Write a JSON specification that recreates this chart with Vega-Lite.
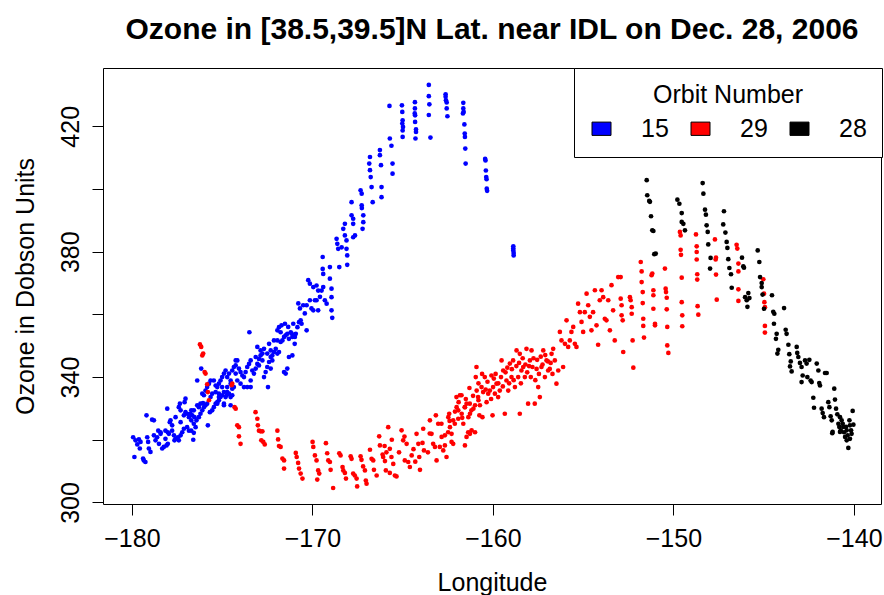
{
  "$schema": "https://vega.github.io/schema/vega-lite/v6.json",
  "width": 778,
  "height": 436,
  "autosize": "none",
  "padding": {"left": 103, "top": 68, "right": 3, "bottom": 91},
  "background": "white",
  "title": {"text": "Ozone in [38.5,39.5]N Lat. near IDL on Dec. 28, 2006", "font": "Liberation Sans", "fontSize": 30, "fontWeight": "bold", "color": "black", "anchor": "middle", "baseline": "alphabetic", "offset": -1},
  "config": {
    "view": {"stroke": "black", "strokeWidth": 1},
    "axis": {"grid": false, "domain": false, "tickColor": "black", "tickSize": 11, "tickWidth": 1, "labelColor": "black", "labelFont": "Liberation Sans", "labelFontSize": 25, "titleFont": "Liberation Sans", "titleFontSize": 25, "titleFontWeight": "normal", "titleColor": "black", "labelOverlap": false, "labelFlush": false}
  },
  "data": {"values": [
{"lon":-179.93,"oz":320.8,"orbit":"15"},{"lon":-179.8,"oz":319.8,"orbit":"15"},{"lon":-179.61,"oz":320.1,"orbit":"15"},{"lon":-179.52,"oz":319.3,"orbit":"15"},{"lon":-179.7,"oz":318.5,"orbit":"15"},{"lon":-179.56,"oz":317.2,"orbit":"15"},{"lon":-179.86,"oz":314.5,"orbit":"15"},{"lon":-179.34,"oz":313.4,"orbit":"15"},{"lon":-179.25,"oz":312.9,"orbit":"15"},{"lon":-179.38,"oz":314,"orbit":"15"},{"lon":-179.06,"oz":317.2,"orbit":"15"},{"lon":-178.97,"oz":316.1,"orbit":"15"},{"lon":-179.15,"oz":320.8,"orbit":"15"},{"lon":-179.1,"oz":319.3,"orbit":"15"},{"lon":-178.78,"oz":321.4,"orbit":"15"},{"lon":-178.69,"oz":319.8,"orbit":"15"},{"lon":-178.6,"oz":320.8,"orbit":"15"},{"lon":-178.54,"oz":322.9,"orbit":"15"},{"lon":-178.41,"oz":322.4,"orbit":"15"},{"lon":-178.5,"oz":318.7,"orbit":"15"},{"lon":-178.32,"oz":317.2,"orbit":"15"},{"lon":-178.23,"oz":317.7,"orbit":"15"},{"lon":-178.08,"oz":318.2,"orbit":"15"},{"lon":-178.14,"oz":320.3,"orbit":"15"},{"lon":-178.01,"oz":318.7,"orbit":"15"},{"lon":-177.95,"oz":321.9,"orbit":"15"},{"lon":-177.77,"oz":322.9,"orbit":"15"},{"lon":-177.67,"oz":321.4,"orbit":"15"},{"lon":-177.64,"oz":319.8,"orbit":"15"},{"lon":-177.58,"oz":320.3,"orbit":"15"},{"lon":-177.45,"oz":320.8,"orbit":"15"},{"lon":-177.4,"oz":319.8,"orbit":"15"},{"lon":-177.3,"oz":321.4,"orbit":"15"},{"lon":-177.21,"oz":322.4,"orbit":"15"},{"lon":-177.12,"oz":323.5,"orbit":"15"},{"lon":-176.94,"oz":324,"orbit":"15"},{"lon":-176.84,"oz":322.9,"orbit":"15"},{"lon":-176.71,"oz":322.9,"orbit":"15"},{"lon":-176.6,"oz":320,"orbit":"15"},{"lon":-176.57,"oz":322.2,"orbit":"15"},{"lon":-176.47,"oz":324,"orbit":"15"},{"lon":-176.57,"oz":325.1,"orbit":"15"},{"lon":-176.71,"oz":326.2,"orbit":"15"},{"lon":-176.84,"oz":327.2,"orbit":"15"},{"lon":-176.94,"oz":328.3,"orbit":"15"},{"lon":-177.03,"oz":328.8,"orbit":"15"},{"lon":-177.12,"oz":327.8,"orbit":"15"},{"lon":-177.3,"oz":325.6,"orbit":"15"},{"lon":-177.4,"oz":330.4,"orbit":"15"},{"lon":-177.34,"oz":331.5,"orbit":"15"},{"lon":-177.03,"oz":333.1,"orbit":"15"},{"lon":-177.08,"oz":332,"orbit":"15"},{"lon":-176.75,"oz":328.3,"orbit":"15"},{"lon":-176.66,"oz":327.8,"orbit":"15"},{"lon":-176.53,"oz":327.2,"orbit":"15"},{"lon":-176.42,"oz":326.2,"orbit":"15"},{"lon":-176.29,"oz":327.2,"orbit":"15"},{"lon":-176.2,"oz":328.3,"orbit":"15"},{"lon":-176.1,"oz":329.4,"orbit":"15"},{"lon":-176.29,"oz":330.4,"orbit":"15"},{"lon":-176.38,"oz":331,"orbit":"15"},{"lon":-176.2,"oz":331.5,"orbit":"15"},{"lon":-176.06,"oz":331.7,"orbit":"15"},{"lon":-176.01,"oz":330.4,"orbit":"15"},{"lon":-175.92,"oz":331,"orbit":"15"},{"lon":-175.83,"oz":331.5,"orbit":"15"},{"lon":-175.79,"oz":324.6,"orbit":"15"},{"lon":-175.68,"oz":328.8,"orbit":"15"},{"lon":-175.55,"oz":329.4,"orbit":"15"},{"lon":-175.46,"oz":330.4,"orbit":"15"},{"lon":-175.36,"oz":331.5,"orbit":"15"},{"lon":-175.27,"oz":332,"orbit":"15"},{"lon":-175.18,"oz":332.6,"orbit":"15"},{"lon":-175.09,"oz":333.6,"orbit":"15"},{"lon":-175,"oz":334.2,"orbit":"15"},{"lon":-174.9,"oz":331,"orbit":"15"},{"lon":-174.81,"oz":333.6,"orbit":"15"},{"lon":-174.72,"oz":335.2,"orbit":"15"},{"lon":-174.62,"oz":334.7,"orbit":"15"},{"lon":-174.53,"oz":333.6,"orbit":"15"},{"lon":-174.44,"oz":336.3,"orbit":"15"},{"lon":-174.35,"oz":336.8,"orbit":"15"},{"lon":-176.01,"oz":334.2,"orbit":"15"},{"lon":-175.92,"oz":335.7,"orbit":"15"},{"lon":-175.83,"oz":336.8,"orbit":"15"},{"lon":-175.73,"oz":337.9,"orbit":"15"},{"lon":-175.64,"oz":338.9,"orbit":"15"},{"lon":-175.46,"oz":338.9,"orbit":"15"},{"lon":-175.36,"oz":337.3,"orbit":"15"},{"lon":-175.27,"oz":336.8,"orbit":"15"},{"lon":-175.18,"oz":337.9,"orbit":"15"},{"lon":-175.09,"oz":338.9,"orbit":"15"},{"lon":-175,"oz":340,"orbit":"15"},{"lon":-174.9,"oz":341.1,"orbit":"15"},{"lon":-174.81,"oz":342.1,"orbit":"15"},{"lon":-174.72,"oz":340,"orbit":"15"},{"lon":-174.62,"oz":341.1,"orbit":"15"},{"lon":-174.53,"oz":338.9,"orbit":"15"},{"lon":-174.44,"oz":342.1,"orbit":"15"},{"lon":-174.35,"oz":343.2,"orbit":"15"},{"lon":-174.25,"oz":343.7,"orbit":"15"},{"lon":-174.16,"oz":345.3,"orbit":"15"},{"lon":-174.07,"oz":342.7,"orbit":"15"},{"lon":-173.98,"oz":341.6,"orbit":"15"},{"lon":-173.88,"oz":340.5,"orbit":"15"},{"lon":-173.79,"oz":340,"orbit":"15"},{"lon":-173.7,"oz":341.6,"orbit":"15"},{"lon":-173.61,"oz":343.2,"orbit":"15"},{"lon":-173.51,"oz":344.2,"orbit":"15"},{"lon":-173.42,"oz":345.3,"orbit":"15"},{"lon":-173.33,"oz":342.1,"orbit":"15"},{"lon":-173.24,"oz":341.1,"orbit":"15"},{"lon":-173.14,"oz":342.7,"orbit":"15"},{"lon":-173.05,"oz":344.2,"orbit":"15"},{"lon":-172.96,"oz":345.8,"orbit":"15"},{"lon":-172.87,"oz":346.9,"orbit":"15"},{"lon":-172.77,"oz":347.5,"orbit":"15"},{"lon":-172.68,"oz":340,"orbit":"15"},{"lon":-172.59,"oz":341.6,"orbit":"15"},{"lon":-172.5,"oz":343.2,"orbit":"15"},{"lon":-172.46,"oz":336.8,"orbit":"15"},{"lon":-172.4,"oz":344.8,"orbit":"15"},{"lon":-172.31,"oz":346.4,"orbit":"15"},{"lon":-172.22,"oz":346.9,"orbit":"15"},{"lon":-172.13,"oz":348,"orbit":"15"},{"lon":-172.03,"oz":349,"orbit":"15"},{"lon":-171.94,"oz":347.5,"orbit":"15"},{"lon":-171.85,"oz":348,"orbit":"15"},{"lon":-171.76,"oz":351.2,"orbit":"15"},{"lon":-171.66,"oz":351.7,"orbit":"15"},{"lon":-171.57,"oz":352.8,"orbit":"15"},{"lon":-171.48,"oz":353.3,"orbit":"15"},{"lon":-171.39,"oz":353.8,"orbit":"15"},{"lon":-171.3,"oz":352.2,"orbit":"15"},{"lon":-171.2,"oz":354.3,"orbit":"15"},{"lon":-171.11,"oz":352.8,"orbit":"15"},{"lon":-171.02,"oz":353.3,"orbit":"15"},{"lon":-170.92,"oz":353.8,"orbit":"15"},{"lon":-170.83,"oz":355.9,"orbit":"15"},{"lon":-170.74,"oz":357.5,"orbit":"15"},{"lon":-170.65,"oz":358.1,"orbit":"15"},{"lon":-171.57,"oz":341.6,"orbit":"15"},{"lon":-171.48,"oz":341.1,"orbit":"15"},{"lon":-171.39,"oz":342.7,"orbit":"15"},{"lon":-171.3,"oz":346.4,"orbit":"15"},{"lon":-171.11,"oz":346.9,"orbit":"15"},{"lon":-170.98,"oz":350.6,"orbit":"15"},{"lon":-173.49,"oz":354.3,"orbit":"15"},{"lon":-173.05,"oz":349.6,"orbit":"15"},{"lon":-172.87,"oz":348.5,"orbit":"15"},{"lon":-172.68,"oz":349,"orbit":"15"},{"lon":-172.4,"oz":350.6,"orbit":"15"},{"lon":-172.13,"oz":351.7,"orbit":"15"},{"lon":-171.94,"oz":354.9,"orbit":"15"},{"lon":-171.85,"oz":355.9,"orbit":"15"},{"lon":-171.76,"oz":354.3,"orbit":"15"},{"lon":-171.94,"oz":351.7,"orbit":"15"},{"lon":-172.31,"oz":348.5,"orbit":"15"},{"lon":-172.22,"oz":345.3,"orbit":"15"},{"lon":-172.31,"oz":342.7,"orbit":"15"},{"lon":-172.5,"oz":347.5,"orbit":"15"},{"lon":-172.77,"oz":345.3,"orbit":"15"},{"lon":-172.96,"oz":343.7,"orbit":"15"},{"lon":-173.14,"oz":346.4,"orbit":"15"},{"lon":-173.42,"oz":336.8,"orbit":"15"},{"lon":-173.42,"oz":338.9,"orbit":"15"},{"lon":-173.61,"oz":336.8,"orbit":"15"},{"lon":-173.79,"oz":336.8,"orbit":"15"},{"lon":-173.98,"oz":337.9,"orbit":"15"},{"lon":-174.16,"oz":338.9,"orbit":"15"},{"lon":-174.25,"oz":341.1,"orbit":"15"},{"lon":-174.25,"oz":345.3,"orbit":"15"},{"lon":-174.53,"oz":337.9,"orbit":"15"},{"lon":-174.72,"oz":336.8,"orbit":"15"},{"lon":-175,"oz":336.8,"orbit":"15"},{"lon":-175.18,"oz":334.7,"orbit":"15"},{"lon":-175.36,"oz":335.2,"orbit":"15"},{"lon":-175.55,"oz":334.7,"orbit":"15"},{"lon":-175.18,"oz":333.6,"orbit":"15"},{"lon":-174.9,"oz":335.2,"orbit":"15"},{"lon":-174.75,"oz":334.2,"orbit":"15"},{"lon":-174.44,"oz":334.2,"orbit":"15"},{"lon":-174.53,"oz":331,"orbit":"15"},{"lon":-174.9,"oz":331.5,"orbit":"15"},{"lon":-175.27,"oz":331.5,"orbit":"15"},{"lon":-175.64,"oz":333.6,"orbit":"15"},{"lon":-176.1,"oz":334.7,"orbit":"15"},{"lon":-176.16,"oz":342.7,"orbit":"15"},{"lon":-176.38,"oz":338.9,"orbit":"15"},{"lon":-176.57,"oz":329.4,"orbit":"15"},{"lon":-176.71,"oz":329.4,"orbit":"15"},{"lon":-177.3,"oz":329.4,"orbit":"15"},{"lon":-177.58,"oz":327.2,"orbit":"15"},{"lon":-177.86,"oz":326.2,"orbit":"15"},{"lon":-177.9,"oz":325.6,"orbit":"15"},{"lon":-177.77,"oz":324.6,"orbit":"15"},{"lon":-178.04,"oz":329.9,"orbit":"15"},{"lon":-178.78,"oz":326.2,"orbit":"15"},{"lon":-179.19,"oz":327.8,"orbit":"15"},{"lon":-178.88,"oz":326.4,"orbit":"15"},{"lon":-178.41,"oz":321.9,"orbit":"15"},{"lon":-178.14,"oz":322.9,"orbit":"15"},{"lon":-178.01,"oz":322.4,"orbit":"15"},
{"lon":-171.71,"oz":356.5,"orbit":"15"},{"lon":-171.52,"oz":357,"orbit":"15"},{"lon":-171.34,"oz":356,"orbit":"15"},{"lon":-171.15,"oz":353.9,"orbit":"15"},{"lon":-171.06,"oz":357,"orbit":"15"},{"lon":-170.97,"oz":352.8,"orbit":"15"},{"lon":-170.6,"oz":357,"orbit":"15"},{"lon":-170.32,"oz":354.9,"orbit":"15"},{"lon":-170.78,"oz":363.5,"orbit":"15"},{"lon":-170.69,"oz":361.9,"orbit":"15"},{"lon":-170.51,"oz":362.9,"orbit":"15"},{"lon":-170.42,"oz":360.3,"orbit":"15"},{"lon":-170.32,"oz":362.9,"orbit":"15"},{"lon":-170.14,"oz":364.5,"orbit":"15"},{"lon":-170.05,"oz":361.9,"orbit":"15"},{"lon":-169.95,"oz":361.3,"orbit":"15"},{"lon":-169.77,"oz":364.5,"orbit":"15"},{"lon":-169.68,"oz":361.3,"orbit":"15"},{"lon":-169.58,"oz":365.6,"orbit":"15"},{"lon":-169.86,"oz":364.5,"orbit":"15"},{"lon":-170.23,"oz":370.9,"orbit":"15"},{"lon":-170.14,"oz":369.8,"orbit":"15"},{"lon":-169.95,"oz":368.7,"orbit":"15"},{"lon":-169.77,"oz":369.2,"orbit":"15"},{"lon":-169.68,"oz":367.6,"orbit":"15"},{"lon":-169.49,"oz":367.6,"orbit":"15"},{"lon":-169.4,"oz":368.7,"orbit":"15"},{"lon":-169.31,"oz":364.5,"orbit":"15"},{"lon":-169.21,"oz":363.4,"orbit":"15"},{"lon":-169.03,"oz":371.4,"orbit":"15"},{"lon":-168.94,"oz":368.2,"orbit":"15"},{"lon":-168.94,"oz":365.5,"orbit":"15"},{"lon":-168.94,"oz":361.3,"orbit":"15"},{"lon":-168.9,"oz":358.9,"orbit":"15"},{"lon":-169.43,"oz":378.3,"orbit":"15"},{"lon":-169.43,"oz":374.5,"orbit":"15"},{"lon":-169.4,"oz":372.9,"orbit":"15"},{"lon":-169.03,"oz":375.1,"orbit":"15"},{"lon":-168.66,"oz":384.1,"orbit":"15"},{"lon":-168.62,"oz":382.5,"orbit":"15"},{"lon":-168.57,"oz":380.9,"orbit":"15"},{"lon":-168.51,"oz":375.1,"orbit":"15"},{"lon":-168.38,"oz":381.4,"orbit":"15"},{"lon":-168.29,"oz":387.3,"orbit":"15"},{"lon":-168.2,"oz":388.9,"orbit":"15"},{"lon":-168.2,"oz":385.2,"orbit":"15"},{"lon":-168.11,"oz":383.6,"orbit":"15"},{"lon":-168.11,"oz":380.9,"orbit":"15"},{"lon":-168.07,"oz":378.8,"orbit":"15"},{"lon":-168.07,"oz":375.8,"orbit":"15"},{"lon":-167.83,"oz":395.8,"orbit":"15"},{"lon":-167.83,"oz":391.6,"orbit":"15"},{"lon":-167.74,"oz":390.5,"orbit":"15"},{"lon":-167.74,"oz":388.9,"orbit":"15"},{"lon":-167.64,"oz":385.2,"orbit":"15"},{"lon":-167.74,"oz":384.6,"orbit":"15"},{"lon":-167.18,"oz":391.6,"orbit":"15"},{"lon":-167.18,"oz":389.4,"orbit":"15"},{"lon":-167.22,"oz":387.3,"orbit":"15"},{"lon":-167.33,"oz":399.6,"orbit":"15"},{"lon":-167.27,"oz":398.5,"orbit":"15"},{"lon":-167.27,"oz":394.8,"orbit":"15"},{"lon":-167.26,"oz":393.9,"orbit":"15"},{"lon":-166.81,"oz":410.2,"orbit":"15"},{"lon":-166.85,"oz":408.1,"orbit":"15"},{"lon":-166.81,"oz":406,"orbit":"15"},{"lon":-166.77,"oz":403.8,"orbit":"15"},{"lon":-166.72,"oz":400.6,"orbit":"15"},{"lon":-166.66,"oz":395.8,"orbit":"15"},{"lon":-166.26,"oz":412.4,"orbit":"15"},{"lon":-166.26,"oz":410.8,"orbit":"15"},{"lon":-166.2,"oz":407.6,"orbit":"15"},{"lon":-166.17,"oz":400.6,"orbit":"15"},{"lon":-166.17,"oz":397.4,"orbit":"15"},{"lon":-165.56,"oz":408.1,"orbit":"15"},{"lon":-165.56,"oz":404.9,"orbit":"15"},{"lon":-165.71,"oz":416.1,"orbit":"15"},{"lon":-165.62,"oz":413.8,"orbit":"15"},{"lon":-165.73,"oz":426.5,"orbit":"15"},{"lon":-165.04,"oz":426.7,"orbit":"15"},{"lon":-165.02,"oz":424.6,"orbit":"15"},{"lon":-165.0,"oz":421.9,"orbit":"15"},{"lon":-165.02,"oz":420.9,"orbit":"15"},{"lon":-164.98,"oz":419.8,"orbit":"15"},{"lon":-165.0,"oz":418.7,"orbit":"15"},{"lon":-165.0,"oz":416.6,"orbit":"15"},{"lon":-164.32,"oz":427.7,"orbit":"15"},{"lon":-164.32,"oz":425.7,"orbit":"15"},{"lon":-164.33,"oz":424.1,"orbit":"15"},{"lon":-164.31,"oz":423.5,"orbit":"15"},{"lon":-164.31,"oz":421.4,"orbit":"15"},{"lon":-164.26,"oz":419,"orbit":"15"},{"lon":-164.26,"oz":418.2,"orbit":"15"},{"lon":-164.29,"oz":416.1,"orbit":"15"},{"lon":-163.55,"oz":433.2,"orbit":"15"},{"lon":-163.55,"oz":429.6,"orbit":"15"},{"lon":-163.52,"oz":427,"orbit":"15"},{"lon":-163.55,"oz":423.6,"orbit":"15"},{"lon":-163.46,"oz":416.4,"orbit":"15"},{"lon":-162.62,"oz":430.2,"orbit":"15"},{"lon":-162.62,"oz":429.4,"orbit":"15"},{"lon":-162.6,"oz":428.3,"orbit":"15"},{"lon":-162.56,"oz":427.6,"orbit":"15"},{"lon":-162.56,"oz":425.7,"orbit":"15"},{"lon":-162.52,"oz":423.2,"orbit":"15"},{"lon":-161.64,"oz":427.5,"orbit":"15"},{"lon":-161.64,"oz":425.7,"orbit":"15"},{"lon":-161.62,"oz":424.6,"orbit":"15"},{"lon":-161.66,"oz":424.1,"orbit":"15"},{"lon":-161.58,"oz":420.6,"orbit":"15"},{"lon":-161.56,"oz":417.7,"orbit":"15"},{"lon":-161.55,"oz":416.6,"orbit":"15"},{"lon":-161.53,"oz":412.9,"orbit":"15"},{"lon":-161.51,"oz":408.1,"orbit":"15"},{"lon":-160.43,"oz":409.6,"orbit":"15"},{"lon":-160.41,"oz":409.1,"orbit":"15"},{"lon":-160.39,"oz":405.9,"orbit":"15"},{"lon":-160.37,"oz":403.8,"orbit":"15"},{"lon":-160.35,"oz":403.1,"orbit":"15"},{"lon":-160.34,"oz":400.1,"orbit":"15"},{"lon":-160.32,"oz":399.4,"orbit":"15"},{"lon":-158.87,"oz":381.7,"orbit":"15"},{"lon":-158.87,"oz":381,"orbit":"15"},{"lon":-158.87,"oz":380.4,"orbit":"15"},{"lon":-158.85,"oz":379.6,"orbit":"15"},{"lon":-158.85,"oz":378.8,"orbit":"15"},
{"lon":-176.23,"oz":350.4,"orbit":"29"},{"lon":-176.16,"oz":349.6,"orbit":"29"},{"lon":-176.1,"oz":346.9,"orbit":"29"},{"lon":-176.05,"oz":347.5,"orbit":"29"},{"lon":-175.97,"oz":341.6,"orbit":"29"},{"lon":-175.92,"oz":341.1,"orbit":"29"},{"lon":-175.83,"oz":337.7,"orbit":"29"},{"lon":-175.79,"oz":335.2,"orbit":"29"},{"lon":-175.73,"oz":332.6,"orbit":"29"},{"lon":-174.44,"oz":337.9,"orbit":"29"},{"lon":-174.47,"oz":337.4,"orbit":"29"},{"lon":-174.31,"oz":330.4,"orbit":"29"},{"lon":-174.25,"oz":329.9,"orbit":"29"},{"lon":-174.16,"oz":324.6,"orbit":"29"},{"lon":-174.07,"oz":324,"orbit":"29"},{"lon":-174.07,"oz":321.1,"orbit":"29"},{"lon":-173.98,"oz":318.7,"orbit":"29"},{"lon":-173.15,"oz":328.8,"orbit":"29"},{"lon":-173.05,"oz":326.7,"orbit":"29"},{"lon":-173.02,"oz":324.6,"orbit":"29"},{"lon":-172.96,"oz":322.9,"orbit":"29"},{"lon":-172.87,"oz":322.7,"orbit":"29"},{"lon":-172.77,"oz":322.7,"orbit":"29"},{"lon":-172.83,"oz":319.8,"orbit":"29"},{"lon":-172.72,"oz":319.3,"orbit":"29"},{"lon":-172.64,"oz":318.5,"orbit":"29"},{"lon":-171.94,"oz":322.9,"orbit":"29"},{"lon":-171.9,"oz":320.1,"orbit":"29"},{"lon":-171.85,"oz":318,"orbit":"29"},{"lon":-171.76,"oz":317.7,"orbit":"29"},{"lon":-171.66,"oz":314,"orbit":"29"},{"lon":-171.57,"oz":313.4,"orbit":"29"},{"lon":-171.57,"oz":310.8,"orbit":"29"},{"lon":-170.92,"oz":315.8,"orbit":"29"},{"lon":-170.87,"oz":314.5,"orbit":"29"},{"lon":-170.79,"oz":312.6,"orbit":"29"},{"lon":-170.74,"oz":310.8,"orbit":"29"},{"lon":-170.65,"oz":309.2,"orbit":"29"},{"lon":-170.55,"oz":307.6,"orbit":"29"},
{"lon":-169.99,"oz":319.3,"orbit":"29"},{"lon":-169.95,"oz":317.7,"orbit":"29"},{"lon":-169.86,"oz":315,"orbit":"29"},{"lon":-169.77,"oz":313.4,"orbit":"29"},{"lon":-169.68,"oz":310.2,"orbit":"29"},{"lon":-169.62,"oz":309.2,"orbit":"29"},{"lon":-169.73,"oz":307.3,"orbit":"29"},{"lon":-169.25,"oz":318.9,"orbit":"29"},{"lon":-169.18,"oz":315.7,"orbit":"29"},{"lon":-169.12,"oz":313.4,"orbit":"29"},{"lon":-169.03,"oz":312.9,"orbit":"29"},{"lon":-168.99,"oz":310.4,"orbit":"29"},{"lon":-168.85,"oz":304.6,"orbit":"29"},{"lon":-168.51,"oz":315.7,"orbit":"29"},{"lon":-168.44,"oz":315,"orbit":"29"},{"lon":-168.33,"oz":311.3,"orbit":"29"},{"lon":-168.29,"oz":310.2,"orbit":"29"},{"lon":-168.2,"oz":309.4,"orbit":"29"},{"lon":-168.14,"oz":307.6,"orbit":"29"},{"lon":-167.88,"oz":314.7,"orbit":"29"},{"lon":-167.83,"oz":313.9,"orbit":"29"},{"lon":-167.74,"oz":309.2,"orbit":"29"},{"lon":-167.65,"oz":308.6,"orbit":"29"},{"lon":-167.55,"oz":307.6,"orbit":"29"},{"lon":-167.52,"oz":305.1,"orbit":"29"},{"lon":-167.33,"oz":314.7,"orbit":"29"},{"lon":-167.28,"oz":313.6,"orbit":"29"},{"lon":-167.19,"oz":311.5,"orbit":"29"},{"lon":-167.09,"oz":310.2,"orbit":"29"},{"lon":-167.04,"oz":307,"orbit":"29"},{"lon":-167,"oz":306,"orbit":"29"},{"lon":-166.81,"oz":316.8,"orbit":"29"},{"lon":-166.72,"oz":313.9,"orbit":"29"},{"lon":-166.63,"oz":313.4,"orbit":"29"},{"lon":-166.59,"oz":310.4,"orbit":"29"},{"lon":-166.44,"oz":308.6,"orbit":"29"},{"lon":-166.3,"oz":321.1,"orbit":"29"},{"lon":-166.26,"oz":318.2,"orbit":"29"},{"lon":-166.11,"oz":315.3,"orbit":"29"},{"lon":-166.08,"oz":314.5,"orbit":"29"},{"lon":-165.98,"oz":313.2,"orbit":"29"},{"lon":-165.93,"oz":310.2,"orbit":"29"},{"lon":-165.71,"oz":309.4,"orbit":"29"},{"lon":-165.8,"oz":324,"orbit":"29"},{"lon":-165.71,"oz":317.1,"orbit":"29"},{"lon":-165.62,"oz":314.5,"orbit":"29"},{"lon":-165.52,"oz":312.3,"orbit":"29"},{"lon":-165.43,"oz":308.6,"orbit":"29"},{"lon":-165.34,"oz":308.3,"orbit":"29"},{"lon":-165.06,"oz":323,"orbit":"29"},{"lon":-164.97,"oz":319.8,"orbit":"29"},{"lon":-164.88,"oz":313.4,"orbit":"29"},{"lon":-164.78,"oz":318.7,"orbit":"29"},{"lon":-164.69,"oz":312.9,"orbit":"29"},{"lon":-164.6,"oz":311.3,"orbit":"29"},{"lon":-164.5,"oz":315,"orbit":"29"},{"lon":-164.23,"oz":321.9,"orbit":"29"},{"lon":-164.13,"oz":318.7,"orbit":"29"},{"lon":-164.08,"oz":314.5,"orbit":"29"},{"lon":-164.04,"oz":310.4,"orbit":"29"},{"lon":-163.86,"oz":323.5,"orbit":"29"},{"lon":-163.82,"oz":316.6,"orbit":"29"},{"lon":-163.49,"oz":326.2,"orbit":"29"},{"lon":-163.4,"oz":321.9,"orbit":"29"},{"lon":-163.31,"oz":318.7,"orbit":"29"},{"lon":-163.21,"oz":317.7,"orbit":"29"},{"lon":-163.16,"oz":327.8,"orbit":"29"},{"lon":-163.12,"oz":313.4,"orbit":"29"},{"lon":-163.03,"oz":325.1,"orbit":"29"},{"lon":-166.0,"oz":318,"orbit":"29"},{"lon":-165.9,"oz":316,"orbit":"29"},{"lon":-165.6,"oz":320,"orbit":"29"},{"lon":-165.2,"oz":316,"orbit":"29"},{"lon":-164.9,"oz":321,"orbit":"29"},{"lon":-164.4,"oz":317,"orbit":"29"},{"lon":-164.3,"oz":313,"orbit":"29"},{"lon":-163.9,"oz":319,"orbit":"29"},{"lon":-163.6,"oz":316,"orbit":"29"},{"lon":-163.5,"oz":322,"orbit":"29"},
{"lon":-162.94,"oz":317.7,"orbit":"29"},{"lon":-162.84,"oz":320.9,"orbit":"29"},{"lon":-162.75,"oz":316.6,"orbit":"29"},{"lon":-162.66,"oz":318.2,"orbit":"29"},{"lon":-162.57,"oz":314.5,"orbit":"29"},{"lon":-162.47,"oz":327.2,"orbit":"29"},{"lon":-162.42,"oz":328.3,"orbit":"29"},{"lon":-162.38,"oz":324,"orbit":"29"},{"lon":-162.29,"oz":321.9,"orbit":"29"},{"lon":-162.2,"oz":318.7,"orbit":"29"},{"lon":-162.11,"oz":325.1,"orbit":"29"},{"lon":-162.01,"oz":330.4,"orbit":"29"},{"lon":-161.92,"oz":326.7,"orbit":"29"},{"lon":-161.83,"oz":334.2,"orbit":"29"},{"lon":-161.73,"oz":328.3,"orbit":"29"},{"lon":-161.64,"oz":325.1,"orbit":"29"},{"lon":-161.55,"oz":330.4,"orbit":"29"},{"lon":-161.46,"oz":331.5,"orbit":"29"},{"lon":-161.36,"oz":327.2,"orbit":"29"},{"lon":-161.27,"oz":328.3,"orbit":"29"},{"lon":-161.18,"oz":323,"orbit":"29"},{"lon":-161.08,"oz":329.9,"orbit":"29"},{"lon":-160.99,"oz":331,"orbit":"29"},{"lon":-160.9,"oz":335.7,"orbit":"29"},{"lon":-160.8,"oz":332.6,"orbit":"29"},{"lon":-160.75,"oz":327.8,"orbit":"29"},{"lon":-161.55,"oz":318.2,"orbit":"29"},{"lon":-161.46,"oz":320.9,"orbit":"29"},{"lon":-161.27,"oz":321.9,"orbit":"29"},{"lon":-160.99,"oz":322.4,"orbit":"29"},
{"lon":-162.85,"oz":325.1,"orbit":"29"},{"lon":-162.66,"oz":321.4,"orbit":"29"},{"lon":-162.48,"oz":322.4,"orbit":"29"},{"lon":-162.29,"oz":319.3,"orbit":"29"},{"lon":-162.2,"oz":326.2,"orbit":"29"},{"lon":-162.02,"oz":333.6,"orbit":"29"},{"lon":-161.92,"oz":329.4,"orbit":"29"},{"lon":-161.74,"oz":334.2,"orbit":"29"},{"lon":-161.56,"oz":330.4,"orbit":"29"},{"lon":-161.37,"oz":322.4,"orbit":"29"},{"lon":-161.28,"oz":331.5,"orbit":"29"},{"lon":-161.19,"oz":329.4,"orbit":"29"},{"lon":-160.95,"oz":340,"orbit":"29"},{"lon":-160.91,"oz":343.2,"orbit":"29"},{"lon":-160.82,"oz":333.6,"orbit":"29"},{"lon":-160.72,"oz":331,"orbit":"29"},{"lon":-160.63,"oz":336.8,"orbit":"29"},{"lon":-160.58,"oz":327.2,"orbit":"29"},{"lon":-160.54,"oz":335.2,"orbit":"29"},{"lon":-160.45,"oz":340,"orbit":"29"},{"lon":-160.35,"oz":332,"orbit":"29"},{"lon":-160.26,"oz":334.7,"orbit":"29"},{"lon":-160.17,"oz":335.7,"orbit":"29"},{"lon":-160.08,"oz":340.5,"orbit":"29"},{"lon":-160.02,"oz":327.8,"orbit":"29"},{"lon":-159.99,"oz":336.8,"orbit":"29"},{"lon":-159.89,"oz":334.7,"orbit":"29"},{"lon":-159.8,"oz":337.9,"orbit":"29"},{"lon":-159.71,"oz":333.6,"orbit":"29"},{"lon":-159.62,"oz":335.7,"orbit":"29"},{"lon":-159.52,"oz":345.3,"orbit":"29"},{"lon":-159.43,"oz":342.1,"orbit":"29"},{"lon":-159.34,"oz":328.3,"orbit":"29"},{"lon":-159.25,"oz":338.9,"orbit":"29"},{"lon":-159.15,"oz":335.7,"orbit":"29"},{"lon":-159.06,"oz":344.3,"orbit":"29"},{"lon":-158.97,"oz":340,"orbit":"29"},{"lon":-158.88,"oz":345.3,"orbit":"29"},{"lon":-158.78,"oz":336.8,"orbit":"29"},{"lon":-158.69,"oz":348.5,"orbit":"29"},{"lon":-158.6,"oz":340,"orbit":"29"},{"lon":-158.51,"oz":347.4,"orbit":"29"},{"lon":-158.51,"oz":328.3,"orbit":"29"},{"lon":-158.42,"oz":342.1,"orbit":"29"},{"lon":-158.32,"oz":343.2,"orbit":"29"},{"lon":-158.23,"oz":340,"orbit":"29"},{"lon":-158.14,"oz":349,"orbit":"29"},{"lon":-158.05,"oz":331.5,"orbit":"29"},{"lon":-157.95,"oz":345.3,"orbit":"29"},{"lon":-157.86,"oz":348.5,"orbit":"29"},{"lon":-157.81,"oz":343.2,"orbit":"29"},{"lon":-157.68,"oz":331.5,"orbit":"29"},{"lon":-157.58,"oz":342.6,"orbit":"29"},{"lon":-157.49,"oz":336.8,"orbit":"29"},{"lon":-157.4,"oz":333.6,"orbit":"29"},{"lon":-157.31,"oz":343.2,"orbit":"29"},{"lon":-157.21,"oz":348.5,"orbit":"29"},{"lon":-157.12,"oz":340,"orbit":"29"},{"lon":-157.03,"oz":345.3,"orbit":"29"},{"lon":-156.94,"oz":342.1,"orbit":"29"},{"lon":-156.85,"oz":342.6,"orbit":"29"},{"lon":-156.75,"oz":347.4,"orbit":"29"},{"lon":-156.66,"oz":349,"orbit":"29"},{"lon":-156.57,"oz":345.3,"orbit":"29"},{"lon":-156.48,"oz":337.9,"orbit":"29"},{"lon":-156.38,"oz":342.1,"orbit":"29"},{"lon":-156.29,"oz":354.4,"orbit":"29"},{"lon":-156.2,"oz":351.7,"orbit":"29"},{"lon":-156.11,"oz":343.2,"orbit":"29"},{"lon":-156.01,"oz":350.6,"orbit":"29"},{"lon":-155.92,"oz":358.1,"orbit":"29"},{"lon":-155.83,"oz":349.6,"orbit":"29"},{"lon":-155.74,"oz":351.7,"orbit":"29"},{"lon":-155.65,"oz":354.4,"orbit":"29"},{"lon":-155.55,"oz":356,"orbit":"29"},{"lon":-155.46,"oz":350.6,"orbit":"29"},{"lon":-155.37,"oz":349.6,"orbit":"29"},{"lon":-155.28,"oz":363.4,"orbit":"29"},{"lon":-155.18,"oz":360.7,"orbit":"29"},{"lon":-155.09,"oz":357.6,"orbit":"29"},{"lon":-155.0,"oz":354.4,"orbit":"29"},{"lon":-154.91,"oz":360.7,"orbit":"29"},{"lon":-154.81,"oz":366.6,"orbit":"29"},{"lon":-154.72,"oz":362.9,"orbit":"29"},{"lon":-154.63,"oz":359.2,"orbit":"29"},{"lon":-154.54,"oz":354.9,"orbit":"29"},{"lon":-154.45,"oz":360.7,"orbit":"29"},{"lon":-154.35,"oz":367.7,"orbit":"29"},{"lon":-154.26,"oz":356.5,"orbit":"29"},{"lon":-154.17,"oz":350.3,"orbit":"29"},{"lon":-154.08,"oz":364.5,"orbit":"29"},{"lon":-153.98,"oz":367.7,"orbit":"29"},{"lon":-153.89,"oz":365.5,"orbit":"29"},{"lon":-153.8,"oz":358.6,"orbit":"29"},{"lon":-153.71,"oz":358.1,"orbit":"29"},{"lon":-153.61,"oz":364.5,"orbit":"29"},{"lon":-153.52,"oz":354.9,"orbit":"29"},{"lon":-153.43,"oz":369.3,"orbit":"29"},{"lon":-153.34,"oz":361.3,"orbit":"29"},{"lon":-153.25,"oz":351.7,"orbit":"29"},{"lon":-153.06,"oz":371.9,"orbit":"29"},
{"lon":-160.8,"oz":338,"orbit":"29"},{"lon":-160.6,"oz":341,"orbit":"29"},{"lon":-160.4,"oz":336,"orbit":"29"},{"lon":-160.3,"oz":338.5,"orbit":"29"},{"lon":-160.1,"oz":333,"orbit":"29"},{"lon":-159.95,"oz":339.5,"orbit":"29"},{"lon":-159.85,"oz":341,"orbit":"29"},{"lon":-159.7,"oz":338,"orbit":"29"},{"lon":-159.55,"oz":340,"orbit":"29"},{"lon":-159.45,"oz":337,"orbit":"29"},{"lon":-159.3,"oz":341.5,"orbit":"29"},{"lon":-159.2,"oz":343,"orbit":"29"},{"lon":-159.1,"oz":338,"orbit":"29"},{"lon":-158.95,"oz":342.5,"orbit":"29"},{"lon":-158.85,"oz":339,"orbit":"29"},{"lon":-158.7,"oz":343.5,"orbit":"29"},{"lon":-158.55,"oz":344.5,"orbit":"29"},{"lon":-158.45,"oz":338,"orbit":"29"},{"lon":-158.35,"oz":346,"orbit":"29"},{"lon":-158.2,"oz":344,"orbit":"29"},{"lon":-158.1,"oz":341.5,"orbit":"29"},{"lon":-158.0,"oz":343.5,"orbit":"29"},{"lon":-157.9,"oz":340,"orbit":"29"},{"lon":-157.75,"oz":346,"orbit":"29"},{"lon":-157.65,"oz":339,"orbit":"29"},{"lon":-157.55,"oz":345.5,"orbit":"29"},{"lon":-157.45,"oz":341,"orbit":"29"},{"lon":-157.35,"oz":346.5,"orbit":"29"},{"lon":-157.25,"oz":344,"orbit":"29"},{"lon":-157.1,"oz":347,"orbit":"29"},{"lon":-156.95,"oz":345,"orbit":"29"},{"lon":-156.8,"oz":344.5,"orbit":"29"},{"lon":-156.7,"oz":341,"orbit":"29"},{"lon":-161.1,"oz":334,"orbit":"29"},{"lon":-161.3,"oz":336.5,"orbit":"29"},{"lon":-161.5,"oz":333,"orbit":"29"},{"lon":-161.7,"oz":327,"orbit":"29"},{"lon":-161.9,"oz":332,"orbit":"29"},{"lon":-162.1,"oz":329,"orbit":"29"},{"lon":-162.4,"oz":326,"orbit":"29"},
{"lon":-152.92,"oz":371.9,"orbit":"29"},{"lon":-152.92,"oz":365,"orbit":"29"},{"lon":-152.87,"oz":362.9,"orbit":"29"},{"lon":-152.87,"oz":359.7,"orbit":"29"},{"lon":-152.81,"oz":358.1,"orbit":"29"},{"lon":-152.78,"oz":348,"orbit":"29"},{"lon":-152.41,"oz":365.5,"orbit":"29"},{"lon":-152.37,"oz":364.5,"orbit":"29"},{"lon":-152.31,"oz":362.3,"orbit":"29"},{"lon":-152.31,"oz":360.2,"orbit":"29"},{"lon":-152.26,"oz":351.7,"orbit":"29"},{"lon":-152.22,"oz":343,"orbit":"29"},{"lon":-151.81,"oz":376.7,"orbit":"29"},{"lon":-151.76,"oz":373.7,"orbit":"29"},{"lon":-151.76,"oz":370.3,"orbit":"29"},{"lon":-151.7,"oz":367.1,"orbit":"29"},{"lon":-151.7,"oz":363.6,"orbit":"29"},{"lon":-151.67,"oz":358.6,"orbit":"29"},{"lon":-151.67,"oz":356.3,"orbit":"29"},{"lon":-151.63,"oz":352.6,"orbit":"29"},{"lon":-151.21,"oz":372.5,"orbit":"29"},{"lon":-151.17,"oz":373,"orbit":"29"},{"lon":-151.11,"oz":367.7,"orbit":"29"},{"lon":-151.11,"oz":366.1,"orbit":"29"},{"lon":-151.11,"oz":361.8,"orbit":"29"},{"lon":-151.02,"oz":357,"orbit":"29"},{"lon":-151.02,"oz":356.5,"orbit":"29"},{"lon":-150.47,"oz":374.6,"orbit":"29"},{"lon":-150.43,"oz":368.2,"orbit":"29"},{"lon":-150.41,"oz":367.1,"orbit":"29"},{"lon":-150.37,"oz":365.3,"orbit":"29"},{"lon":-150.37,"oz":361.6,"orbit":"29"},{"lon":-150.34,"oz":356,"orbit":"29"},{"lon":-150.34,"oz":350.1,"orbit":"29"},{"lon":-150.28,"oz":347.7,"orbit":"29"},{"lon":-149.64,"oz":386.3,"orbit":"29"},{"lon":-149.6,"oz":385.2,"orbit":"29"},{"lon":-149.6,"oz":380.6,"orbit":"29"},{"lon":-149.58,"oz":379,"orbit":"29"},{"lon":-149.54,"oz":371.7,"orbit":"29"},{"lon":-149.54,"oz":363.9,"orbit":"29"},{"lon":-149.51,"oz":359.7,"orbit":"29"},{"lon":-149.51,"oz":356.2,"orbit":"29"},{"lon":-148.75,"oz":385.5,"orbit":"29"},{"lon":-148.71,"oz":381.7,"orbit":"29"},{"lon":-148.71,"oz":379.9,"orbit":"29"},{"lon":-148.71,"oz":377.5,"orbit":"29"},{"lon":-148.68,"oz":372.8,"orbit":"29"},{"lon":-148.68,"oz":371.1,"orbit":"29"},{"lon":-148.66,"oz":362.6,"orbit":"29"},{"lon":-148.62,"oz":359.9,"orbit":"29"},{"lon":-147.7,"oz":383.9,"orbit":"29"},{"lon":-147.64,"oz":378.1,"orbit":"29"},{"lon":-147.66,"oz":377.5,"orbit":"29"},{"lon":-147.64,"oz":372.7,"orbit":"29"},{"lon":-147.6,"oz":364.7,"orbit":"29"},{"lon":-146.5,"oz":382.2,"orbit":"29"},{"lon":-146.46,"oz":381,"orbit":"29"},{"lon":-146.4,"oz":376.2,"orbit":"29"},{"lon":-146.4,"oz":373.7,"orbit":"29"},{"lon":-146.4,"oz":368,"orbit":"29"},{"lon":-146.4,"oz":364.3,"orbit":"29"},{"lon":-145.02,"oz":371.2,"orbit":"29"},{"lon":-144.98,"oz":366.6,"orbit":"29"},{"lon":-144.96,"oz":363.9,"orbit":"29"},{"lon":-144.93,"oz":362.3,"orbit":"29"},{"lon":-144.93,"oz":356.3,"orbit":"29"},{"lon":-144.93,"oz":354.2,"orbit":"29"},
{"lon":-151.48,"oz":402.8,"orbit":"28"},{"lon":-151.45,"oz":398,"orbit":"28"},{"lon":-151.34,"oz":396.2,"orbit":"28"},{"lon":-151.3,"oz":395.9,"orbit":"28"},{"lon":-151.24,"oz":391.3,"orbit":"28"},{"lon":-151.17,"oz":386.8,"orbit":"28"},{"lon":-151.11,"oz":386.6,"orbit":"28"},{"lon":-151.06,"oz":379.2,"orbit":"28"},{"lon":-150.98,"oz":379.4,"orbit":"28"},{"lon":-149.78,"oz":396.6,"orbit":"28"},{"lon":-149.67,"oz":395.3,"orbit":"28"},{"lon":-149.54,"oz":392.3,"orbit":"28"},{"lon":-149.54,"oz":389.5,"orbit":"28"},{"lon":-149.45,"oz":388.9,"orbit":"28"},{"lon":-149.36,"oz":386.8,"orbit":"28"},{"lon":-148.38,"oz":401.9,"orbit":"28"},{"lon":-148.34,"oz":398.5,"orbit":"28"},{"lon":-148.25,"oz":393.4,"orbit":"28"},{"lon":-148.2,"oz":391.8,"orbit":"28"},{"lon":-148.16,"oz":388.4,"orbit":"28"},{"lon":-148.1,"oz":386.3,"orbit":"28"},{"lon":-148.07,"oz":382.3,"orbit":"28"},{"lon":-147.94,"oz":378,"orbit":"28"},{"lon":-147.97,"oz":374.6,"orbit":"28"},{"lon":-147.2,"oz":392.9,"orbit":"28"},{"lon":-147.24,"oz":388.7,"orbit":"28"},{"lon":-147.12,"oz":386.1,"orbit":"28"},{"lon":-147.05,"oz":383.1,"orbit":"28"},{"lon":-147.01,"oz":381.2,"orbit":"28"},{"lon":-146.96,"oz":377.6,"orbit":"28"},{"lon":-146.9,"oz":374.8,"orbit":"28"},{"lon":-146.81,"oz":372.8,"orbit":"28"},{"lon":-146.77,"oz":368.5,"orbit":"28"},{"lon":-146.2,"oz":378.1,"orbit":"28"},{"lon":-146.13,"oz":375.3,"orbit":"28"},{"lon":-146.09,"oz":374.9,"orbit":"28"},{"lon":-145.33,"oz":380.4,"orbit":"28"},{"lon":-145.24,"oz":376.7,"orbit":"28"},{"lon":-145.2,"oz":371.9,"orbit":"28"},{"lon":-145.11,"oz":370,"orbit":"28"},{"lon":-145.11,"oz":368.7,"orbit":"28"},{"lon":-145.06,"oz":366.3,"orbit":"28"},{"lon":-146.03,"oz":365.5,"orbit":"28"},{"lon":-145.94,"oz":364.5,"orbit":"28"},{"lon":-145.9,"oz":362.4,"orbit":"28"},{"lon":-145.85,"oz":366.8,"orbit":"28"},{"lon":-145.79,"oz":365.2,"orbit":"28"},{"lon":-144.98,"oz":361.8,"orbit":"28"},{"lon":-144.54,"oz":366.1,"orbit":"28"},{"lon":-144.47,"oz":360.8,"orbit":"28"},{"lon":-144.41,"oz":360.2,"orbit":"28"},{"lon":-144.43,"oz":357,"orbit":"28"},{"lon":-144.28,"oz":353.8,"orbit":"28"},{"lon":-144.32,"oz":352.2,"orbit":"28"},{"lon":-144.19,"oz":348.7,"orbit":"28"},{"lon":-144.24,"oz":347.5,"orbit":"28"},{"lon":-143.87,"oz":362,"orbit":"28"},{"lon":-143.78,"oz":355.1,"orbit":"28"},{"lon":-143.73,"oz":353.8,"orbit":"28"},{"lon":-143.63,"oz":350.3,"orbit":"28"},{"lon":-143.58,"oz":347.3,"orbit":"28"},{"lon":-143.5,"oz":345,"orbit":"28"},{"lon":-143.45,"oz":341.8,"orbit":"28"},{"lon":-143.54,"oz":343.4,"orbit":"28"},{"lon":-143.17,"oz":349.6,"orbit":"28"},{"lon":-143.14,"oz":347.7,"orbit":"28"},{"lon":-143.08,"oz":346.4,"orbit":"28"},{"lon":-142.99,"oz":344.5,"orbit":"28"},{"lon":-142.9,"oz":343.2,"orbit":"28"},{"lon":-142.84,"oz":340.5,"orbit":"28"},{"lon":-142.9,"oz":338.4,"orbit":"28"},{"lon":-142.71,"oz":345.3,"orbit":"28"},{"lon":-142.62,"oz":344.3,"orbit":"28"},{"lon":-142.58,"oz":340,"orbit":"28"},{"lon":-142.47,"oz":345.5,"orbit":"28"},{"lon":-142.4,"oz":338.9,"orbit":"28"},{"lon":-142.34,"oz":338.4,"orbit":"28"},{"lon":-142.25,"oz":333.4,"orbit":"28"},{"lon":-142.21,"oz":330.2,"orbit":"28"},{"lon":-142.06,"oz":344.3,"orbit":"28"},{"lon":-141.97,"oz":342.1,"orbit":"28"},{"lon":-141.92,"oz":338.1,"orbit":"28"},{"lon":-141.88,"oz":337.3,"orbit":"28"},{"lon":-141.79,"oz":329.9,"orbit":"28"},{"lon":-141.73,"oz":328.5,"orbit":"28"},{"lon":-141.66,"oz":327.2,"orbit":"28"},{"lon":-141.6,"oz":341.3,"orbit":"28"},{"lon":-141.51,"oz":341.3,"orbit":"28"},{"lon":-141.42,"oz":332,"orbit":"28"},{"lon":-141.36,"oz":330.4,"orbit":"28"},{"lon":-141.29,"oz":327.5,"orbit":"28"},{"lon":-141.23,"oz":326.2,"orbit":"28"},{"lon":-141.18,"oz":322.5,"orbit":"28"},{"lon":-141.09,"oz":336.3,"orbit":"28"},{"lon":-141.05,"oz":332.8,"orbit":"28"},{"lon":-140.99,"oz":329.9,"orbit":"28"},{"lon":-140.92,"oz":328.1,"orbit":"28"},{"lon":-140.86,"oz":325.1,"orbit":"28"},{"lon":-140.81,"oz":324.1,"orbit":"28"},{"lon":-140.77,"oz":327.2,"orbit":"28"},{"lon":-140.73,"oz":323,"orbit":"28"},{"lon":-140.68,"oz":326.2,"orbit":"28"},{"lon":-140.62,"oz":325.1,"orbit":"28"},{"lon":-140.59,"oz":324.1,"orbit":"28"},{"lon":-140.55,"oz":322.4,"orbit":"28"},{"lon":-140.49,"oz":320.9,"orbit":"28"},{"lon":-140.44,"oz":324.1,"orbit":"28"},{"lon":-140.4,"oz":323,"orbit":"28"},{"lon":-140.35,"oz":321.4,"orbit":"28"},{"lon":-140.31,"oz":317.4,"orbit":"28"},{"lon":-140.25,"oz":326.2,"orbit":"28"},{"lon":-140.22,"oz":324.6,"orbit":"28"},{"lon":-140.16,"oz":323,"orbit":"28"},{"lon":-140.13,"oz":321.9,"orbit":"28"},{"lon":-140.07,"oz":329.2,"orbit":"28"},{"lon":-140.03,"oz":324.8,"orbit":"28"},{"lon":-140.22,"oz":320.3,"orbit":"28"},{"lon":-140.4,"oz":319.8,"orbit":"28"},{"lon":-140.77,"oz":322.5,"orbit":"28"},{"lon":-141.2,"oz":322.1,"orbit":"28"}
  ]},
  "mark": {"type": "point", "filled": true, "size": 22, "opacity": 1, "shape": "circle"},
  "encoding": {
    "x": {"field": "lon", "type": "quantitative", "scale": {"domain": [-181.6, -138.5], "nice": false, "zero": false},
      "axis": {"values": [-180, -170, -160, -150, -140], "title": "Longitude", "labelPadding": 11, "titleBaseline": "alphabetic", "titleY": 86}},
    "y": {"field": "oz", "type": "quantitative", "scale": {"domain": [299.5, 438.6], "nice": false, "zero": false},
      "axis": {"values": [300, 320, 340, 360, 380, 400, 420], "labelExpr": "(datum.value - 300) % 40 == 0 ? datum.label : ''", "labelAngle": 270, "labelAlign": "center", "labelBaseline": "alphabetic", "labelPadding": 14, "title": "Ozone in Dobson Units", "titleX": -70, "titleBaseline": "alphabetic", "titleAngle": 270}},
    "color": {"field": "orbit", "type": "nominal", "sort": ["15", "29", "28"],
      "scale": {"domain": ["15", "29", "28"], "range": ["#0000FF", "#FF0000", "#000000"]},
      "legend": {"orient": "none", "legendX": 471, "legendY": 0, "direction": "horizontal", "title": "Orbit Number", "titleAnchor": "middle", "titleFont": "Liberation Sans", "titleFontSize": 25, "titleFontWeight": "normal", "titleColor": "black", "titlePadding": 8, "labelFont": "Liberation Sans", "labelFontSize": 25, "labelColor": "black", "labelOffset": 27, "columnPadding": 19, "symbolType": "M-1,-0.7H1V0.7H-1Z", "symbolSize": 361, "symbolStrokeColor": "black", "symbolStrokeWidth": 1, "symbolOpacity": 1, "strokeColor": "black", "fillColor": "white", "padding": 15}}
  }
}
